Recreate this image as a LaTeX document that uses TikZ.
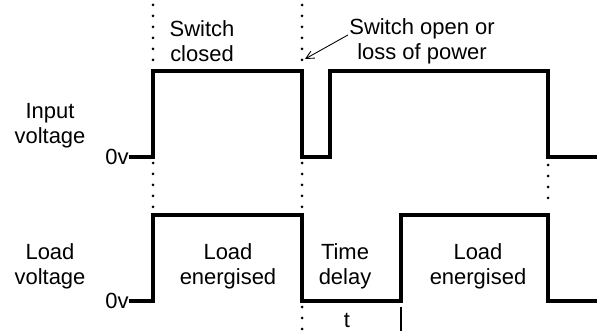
\documentclass[tikz,border=0pt]{standalone}
\usepackage{fontspec}
\setmainfont{Liberation Sans}
\usepackage{tikz}
\usetikzlibrary{positioning,arrows.meta,calc}
\usepackage{xcolor}
\definecolor{wvblack}{HTML}{000000}

\begin{document}
\begin{tikzpicture}[x=0.02cm,y=-0.02cm,
      lbl/.style={font=\fontsize{12.5}{14.2}\selectfont,align=center,inner sep=0pt},
      zerolbl/.style={font=\fontsize{12.5}{14.2}\selectfont,anchor=east,inner sep=0pt},
      wave/.style={line width=0.085cm,wvblack,line join=miter},
      dots/.style={line width=0.06cm,line cap=round,dash pattern=on 0pt off 0.22cm,wvblack},
      arr/.style={-{Straight Barb[length=1.6mm,width=1.6mm]},line width=0.5pt,wvblack},
      tmark/.style={line width=0.035cm,wvblack}]
    \useasboundingbox (0,0) rectangle (605,334);
    % row labels
    \node[lbl] (inl) at (50,126) {Input\\voltage};
    \node[lbl] (ldl) at (50,266) {Load\\voltage};
    \node[zerolbl] (zin) at (129,157) {0v};
    \node[zerolbl] (zld) at (129,301) {0v};
    % state labels
    \node[lbl] (closed) at (202,41) {Switch\\closed};
    \node[lbl] (open) at (422,41) {Switch open or\\loss of power};
    \node[lbl] (en1) at (228,266) {Load\\energised};
    \node[lbl] (delay) at (345,266) {Time\\delay};
    \node[lbl] (en2) at (478,266) {Load\\energised};
    \node[lbl] (tt) at (347,320) {t};
    % dotted guides
    \draw[dots] (153,5) -- (153,63);
    \draw[dots] (153,163) -- (153,210);
    \draw[dots] (302,5) -- (302,63);
    \draw[dots] (302,163) -- (302,210);
    \draw[dots] (302,307) -- (302,330);
    \draw[dots] (548,165) -- (548,208);
    % waveforms
    \draw[wave] (zin.east) -- (153,157) -- (153,71) -- (302,71) -- (302,157) -- (330,157)
      -- (330,71) -- (548,71) -- (548,157) -- (597,157);
    \draw[wave] (zld.east) -- (153,301) -- (153,215) -- (302,215) -- (302,301) -- (401,301)
      -- (401,215) -- (548,215) -- (548,301) -- (597,301);
    \draw[tmark] (401,307) -- (401,331);
    \coordinate (cut) at (305,59);
    \draw[arr] ($(open.north west)+(-1,17)$) -- (cut);
\end{tikzpicture}
\end{document}
